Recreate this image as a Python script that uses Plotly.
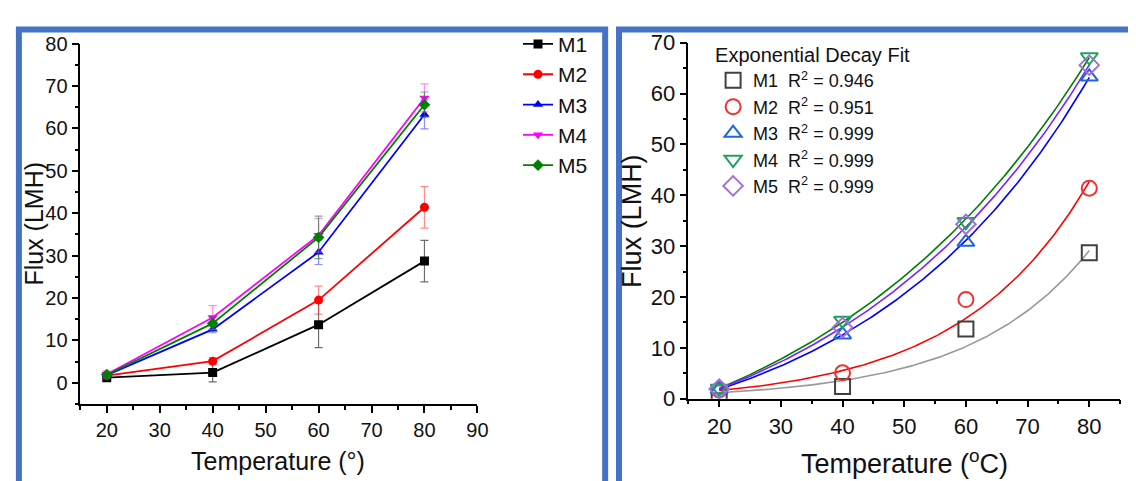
import numpy as np
import plotly.graph_objects as go

# ---------------- data ----------------
temperature = [20, 40, 60, 80]
series_names = ["M1", "M2", "M3", "M4", "M5"]
flux_m1 = [1.2, 2.4, 13.7, 28.7]
flux_m2 = [1.7, 5.1, 19.5, 41.4]
flux_m3 = [1.8, 12.6, 30.8, 63.3]
flux_m4 = [2.0, 15.4, 34.8, 67.2]
flux_m5 = [1.9, 14.0, 34.3, 65.6]
err_m1 = [0.3, 2.2, 5.4, 4.9]
err_m2 = [0.5, 0.8, 3.3, 4.9]
err_m3 = [0.6, 0.8, 2.9, 3.4]
err_m4 = [0.8, 2.8, 4.0, 3.3]
err_m5 = [0.6, 1.5, 5.0, 3.0]
r_squared = ["0.946", "0.951", "0.999", "0.999", "0.999"]
left_xticks = [20, 30, 40, 50, 60, 70, 80, 90]
left_yticks = [0, 10, 20, 30, 40, 50, 60, 70, 80]
right_xticks = [20, 30, 40, 50, 60, 70, 80]
right_yticks = [0, 10, 20, 30, 40, 50, 60, 70]

fluxes = [flux_m1, flux_m2, flux_m3, flux_m4, flux_m5]
errors = [err_m1, err_m2, err_m3, err_m4, err_m5]

# ---------------- styles ----------------
W, H = 1136, 481
FONT = "Liberation Sans, Arial, sans-serif"
TXT = "#111111"
left_colors = ["#000000", "#ff0000", "#0000ff", "#ff00ff", "#008000"]
left_err_colors = ["rgba(60,60,60,0.75)", "rgba(255,60,60,0.6)", "rgba(60,60,255,0.6)",
                   "rgba(255,60,255,0.6)", "rgba(40,120,40,0.6)"]
left_symbols = ["square", "circle", "triangle-up", "triangle-down", "diamond"]
right_marker_colors = ["#404040", "#ee3333", "#2266dd", "#22a060", "#a070d8"]
right_curve_colors = ["#999999", "#ff0000", "#0000ff", "#008000", "#8020ff"]
right_symbols = ["square-open", "circle-open", "triangle-up-open", "triangle-down-open", "diamond-open"]


def px(x):
    return x / W


def py(y):
    return 1 - y / H


def exp_fit(x, y, err):
    """Weighted (1/err^2) least-squares fit of y = A*exp(x/t) + y0."""
    x = np.asarray(x, float)
    y = np.asarray(y, float)
    w = 1.0 / np.asarray(err, float)
    best = None
    for t in np.linspace(5, 400, 7901):
        e = np.exp(x / t)
        M = np.column_stack([e, np.ones_like(e)])
        coef, *_ = np.linalg.lstsq(M * w[:, None], y * w, rcond=None)
        sse = float(np.sum(((M @ coef - y) * w) ** 2))
        if best is None or sse < best[0]:
            best = (sse, t, coef)
    return best[1], best[2]


fig = go.Figure()

# left panel
for i, name in enumerate(series_names):
    fig.add_trace(go.Scatter(
        x=temperature, y=fluxes[i], name=name, mode="lines+markers",
        line=dict(color=left_colors[i], width=1.8),
        marker=dict(symbol=left_symbols[i], size=9, color=left_colors[i]),
        error_y=dict(type="data", array=errors[i], visible=True,
                     color=left_err_colors[i], thickness=1.2, width=4),
        xaxis="x", yaxis="y", legend="legend",
    ))

# right panel: fit curves
xs = np.linspace(min(temperature), max(temperature), 200)
for i, name in enumerate(series_names):
    t, (A, y0) = exp_fit(temperature, fluxes[i], errors[i])
    fig.add_trace(go.Scatter(
        x=xs, y=A * np.exp(xs / t) + y0, mode="lines",
        line=dict(color=right_curve_colors[i], width=1.6),
        showlegend=False, xaxis="x2", yaxis="y2", hoverinfo="skip",
    ))
# right panel: open markers
for i, name in enumerate(series_names):
    fig.add_trace(go.Scatter(
        x=temperature, y=fluxes[i], mode="markers",
        name=f"{name}\u00a0 R<sup>2</sup> = {r_squared[i]}",
        marker=dict(symbol=right_symbols[i], size=15, color=right_marker_colors[i],
                    line=dict(width=2, color=right_marker_colors[i])),
        xaxis="x2", yaxis="y2", legend="legend2",
    ))

axis_common = dict(
    showline=True, linecolor="black", linewidth=1.5, mirror=False,
    ticks="outside", ticklen=7, tickwidth=1.5, tickcolor="black",
    showgrid=False, zeroline=False,
    minor=dict(ticks="outside", ticklen=4, tickwidth=1.5, tickcolor="black", dtick=5),
)

fig.update_layout(
    width=W, height=H,
    margin=dict(l=0, r=0, t=0, b=0),
    paper_bgcolor="white", plot_bgcolor="white",
    font=dict(family=FONT, color=TXT),
    xaxis=dict(domain=[px(73), px(474)], range=[15, 90], tickvals=left_xticks,
               tickfont=dict(size=20, color=TXT), anchor="y", **axis_common),
    yaxis=dict(domain=[py(405), py(25)], range=[-5, 80], tickvals=left_yticks,
               tickfont=dict(size=20, color=TXT), anchor="x", **axis_common),
    xaxis2=dict(domain=[px(687), px(1123)], range=[15, 85], tickvals=right_xticks,
                tickfont=dict(size=22, color=TXT), anchor="y2", **axis_common),
    yaxis2=dict(domain=[py(399.5), py(24)], range=[0, 70], tickvals=right_yticks,
                tickfont=dict(size=22, color=TXT), anchor="x2", **axis_common),
    legend=dict(x=px(515), y=py(4), xanchor="left", yanchor="top",
                font=dict(size=21, color=TXT), bgcolor="rgba(0,0,0,0)",
                tracegroupgap=0, itemwidth=30),
    legend2=dict(x=px(712), y=py(17), xanchor="left", yanchor="top",
                 title=dict(text="Exponential Decay Fit", font=dict(size=20, color=TXT)),
                 font=dict(size=18, color=TXT), bgcolor="rgba(0,0,0,0)",
                 tracegroupgap=0, itemwidth=30),
    showlegend=True,
)

# axis titles
fig.add_annotation(text="Temperature (°)", x=px(273), y=py(465), xref="paper", yref="paper",
                   showarrow=False, font=dict(size=25, color=TXT), xanchor="center", yanchor="middle")
fig.add_annotation(text="Flux (LMH)", x=px(26), y=py(215), xref="paper", yref="paper",
                   showarrow=False, font=dict(size=25, color=TXT), textangle=-90,
                   xanchor="center", yanchor="middle")
fig.add_annotation(text="Temperature (<sup>o</sup>C)", x=px(905), y=py(466), xref="paper", yref="paper",
                   showarrow=False, font=dict(size=27, color=TXT), xanchor="center", yanchor="middle")
fig.add_annotation(text="Flux (LMH)", x=px(630), y=py(212), xref="paper", yref="paper",
                   showarrow=False, font=dict(size=27, color=TXT), textangle=-90,
                   xanchor="center", yanchor="middle")

# panel borders
border = dict(color="#4472c4", width=6)
fig.add_shape(type="rect", xref="paper", yref="paper",
              x0=px(11), x1=px(603), y0=py(10), y1=py(520), line=border)
fig.add_shape(type="rect", xref="paper", yref="paper",
              x0=px(617), x1=px(1180), y0=py(10), y1=py(520), line=border)

fig.write_html("out.html")
